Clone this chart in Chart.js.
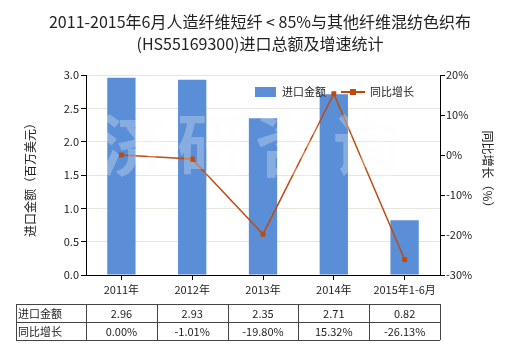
<!DOCTYPE html>
<html>
<head>
<meta charset="utf-8">
<script src="https://cdn.jsdelivr.net/npm/chart.js@4/dist/chart.umd.min.js"></script>
<style>
  body { margin: 0; background: #fff; }
  canvas { display: block; }
</style>
</head>
<body>
<canvas id="grafico" width="520" height="350"></canvas>
<script>
// ---------- dados ----------
const anos = ["2011年", "2012年", "2013年", "2014年", "2015年1-6月"];
const importacao = [2.96, 2.93, 2.35, 2.71, 0.82];
const crescimento = [0.00, -1.01, -19.80, 15.32, -26.13];
const titulo = ["2011-2015年6月人造纤维短纤 < 85%与其他纤维混纺色织布", "(HS55169300)进口总额及增速统计"];
const nomeBarra = "进口金额";
const nomeLinha = "同比增长";
const tituloEsq = "进口金额（百万美元）";
const tituloDir = "同比增长（%）";

const FONTE = "'Noto Sans CJK SC', 'Noto Sans', sans-serif";
const AZUL = "#5a8ed6";
const LARANJA = "#c04a0e";
const TEXTO = "#222";

// ---------- plugin: titulo, marca d'agua, legenda, tabela ----------
const extras = {
    id: "extras",
    afterDatasetsDraw(chart) {
        const ctx = chart.ctx;
        // marca d'agua
        ctx.save();
        ctx.font = "bold 68px " + FONTE;
        ctx.fillStyle = "rgba(250,250,250,0.28)";
        ctx.textAlign = "center";
        ctx.textBaseline = "middle";
        ["济", "研", "咨", "询"].forEach((c, i) => ctx.fillText(c, 133 + i * 78, 145));
        ctx.restore();
    },
    afterDraw(chart) {
        const ctx = chart.ctx;
        const area = chart.chartArea;
        const x = chart.scales.x;
        ctx.save();

        // titulo
        ctx.fillStyle = TEXTO;
        ctx.font = "16px " + FONTE;
        ctx.textAlign = "center";
        ctx.textBaseline = "middle";
        ctx.fillText(titulo[0], 260, 22);
        ctx.fillText(titulo[1], 260, 44);

        // titulos dos eixos
        ctx.font = "12px " + FONTE;
        ctx.save();
        ctx.translate(30, 177);
        ctx.rotate(-Math.PI / 2);
        ctx.fillText(tituloEsq, 0, 0);
        ctx.restore();
        ctx.save();
        ctx.translate(488, 172);
        ctx.rotate(Math.PI / 2);
        ctx.fillText(tituloDir, 0, 0);
        ctx.restore();

        // legenda
        ctx.font = "11px " + FONTE;
        ctx.textAlign = "left";
        ctx.fillStyle = AZUL;
        ctx.fillRect(255, 87, 21, 10);
        ctx.fillStyle = TEXTO;
        ctx.fillText(nomeBarra, 282, 92);
        ctx.strokeStyle = LARANJA;
        ctx.lineWidth = 2;
        ctx.beginPath();
        ctx.moveTo(341, 92);
        ctx.lineTo(365, 92);
        ctx.stroke();
        ctx.fillStyle = LARANJA;
        ctx.fillRect(350, 89, 6, 6);
        ctx.fillStyle = TEXTO;
        ctx.fillText(nomeLinha, 370, 92);

        // tabela
        const meia = (area.right - area.left) / anos.length / 2;
        const topo = 304, alt = 18, esq = 16;
        const dir = x.getPixelForValue(anos.length - 1) + meia;
        ctx.strokeStyle = "#444";
        ctx.lineWidth = 1;
        ctx.beginPath();
        for (let r = 0; r <= 2; r++) {
            ctx.moveTo(esq, topo + r * alt + 0.5);
            ctx.lineTo(dir, topo + r * alt + 0.5);
        }
        ctx.moveTo(esq + 0.5, topo);
        ctx.lineTo(esq + 0.5, topo + 2 * alt);
        for (let i = 0; i < anos.length; i++) {
            const b = Math.round(x.getPixelForValue(i) - meia) + 0.5;
            ctx.moveTo(b, topo);
            ctx.lineTo(b, topo + 2 * alt);
        }
        ctx.moveTo(Math.round(dir) + 0.5, topo);
        ctx.lineTo(Math.round(dir) + 0.5, topo + 2 * alt);
        ctx.stroke();

        ctx.fillStyle = TEXTO;
        ctx.font = "11px " + FONTE;
        ctx.textAlign = "left";
        ctx.fillText(nomeBarra, esq + 2, topo + alt / 2 + 1);
        ctx.fillText(nomeLinha, esq + 2, topo + alt * 1.5 + 1);
        ctx.textAlign = "center";
        for (let i = 0; i < anos.length; i++) {
            const cx = x.getPixelForValue(i);
            ctx.fillText(importacao[i].toFixed(2), cx, topo + alt / 2 + 1);
            ctx.fillText(crescimento[i].toFixed(2) + "%", cx, topo + alt * 1.5 + 1);
        }
        ctx.restore();
    }
};

Chart.defaults.font.family = FONTE;
Chart.defaults.font.size = 11;
Chart.defaults.color = TEXTO;

new Chart(document.getElementById("grafico"), {
    type: "bar",
    data: {
        labels: anos,
        datasets: [
            {
                type: "line",
                label: nomeLinha,
                data: crescimento,
                yAxisID: "y1",
                borderColor: LARANJA,
                backgroundColor: LARANJA,
                borderWidth: 1.5,
                pointStyle: "rect",
                pointRadius: 3.5,
                pointBorderWidth: 0,
                tension: 0,
                order: 0
            },
            {
                label: nomeBarra,
                data: importacao,
                yAxisID: "y",
                backgroundColor: AZUL,
                barPercentage: 0.4,
                categoryPercentage: 1,
                order: 1
            }
        ]
    },
    options: {
        responsive: false,
        animation: false,
        layout: { padding: { top: 75, bottom: 0, left: 0, right: 0 } },
        plugins: {
            legend: { display: false },
            tooltip: { enabled: false }
        },
        scales: {
            x: {
                offset: true,
                grid: { offset: false, drawOnChartArea: false, tickLength: 5, tickColor: "#000" },
                border: { color: "#000" },
                ticks: { padding: 3, maxRotation: 0 },
                afterFit: s => { s.height = 75; }
            },
            y: {
                position: "left",
                min: 0,
                max: 3,
                ticks: { stepSize: 0.5, padding: 2, callback: v => v.toFixed(1) },
                grid: { color: "#e8e5dc", tickColor: "#000", tickLength: 5 },
                border: { color: "#000" },
                afterFit: s => { s.width = 86; }
            },
            y1: {
                position: "right",
                min: -30,
                max: 20,
                ticks: { stepSize: 10, padding: 1, callback: v => v + "%" },
                grid: { drawOnChartArea: false, tickColor: "#000", tickLength: 5 },
                border: { color: "#000" },
                afterFit: s => { s.width = 80; }
            }
        }
    },
    plugins: [extras]
});
</script>
</body>
</html>
